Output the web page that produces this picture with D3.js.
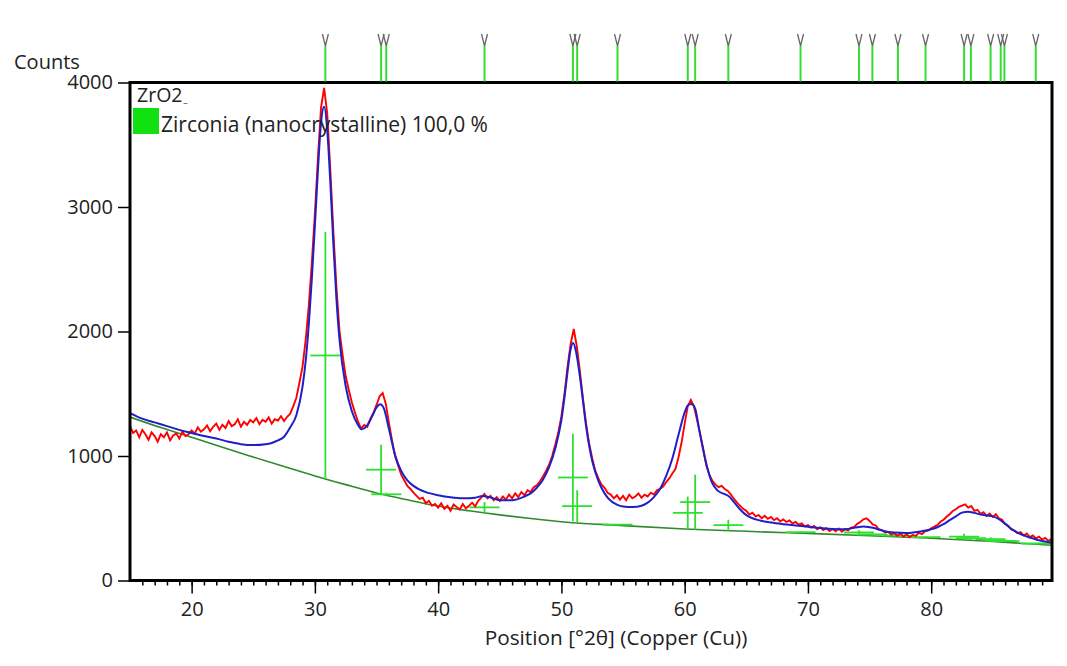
<!DOCTYPE html>
<html>
<head>
<meta charset="utf-8">
<script src="https://cdn.jsdelivr.net/npm/d3@7"></script>
<style>
  html, body { margin: 0; padding: 0; background: #ffffff; }
  svg { display: block; }
  text { font-family: "Open Sans", "Noto Sans", sans-serif; fill: #222; }
</style>
</head>
<body>
<svg id="chart" width="1067" height="666"></svg>
<script>
// ---------------- DATA ----------------
const yTickValues = [0, 1000, 2000, 3000, 4000];
const xMajorTicks = [20, 30, 40, 50, 60, 70, 80];

// observed pattern (red), 2theta from 15 in 0.25 deg steps
const obsStart = 15, obsStep = 0.25;
const obsCounts = [
 1240,1185,1205,1150,1210,1175,1130,1190,1160,1115,1175,1150,1190,1125,1165,1180,1140,1195,1160,1175,
 1205,1180,1230,1195,1215,1245,1200,1235,1260,1210,1250,1225,1280,1240,1255,1295,1235,1275,1250,1290,
 1270,1305,1255,1290,1275,1310,1260,1295,1285,1320,1280,1315,1340,1400,1470,1590,1720,1930,2200,2550,
 2950,3400,3800,3956,3750,3300,2800,2350,2000,1810,1640,1530,1430,1350,1275,1220,1250,1235,1300,1345,
 1410,1480,1505,1420,1270,1130,1000,925,850,805,760,735,705,680,655,665,620,640,600,615,
 585,620,575,600,560,610,590,570,615,580,600,625,595,640,665,695,660,680,645,670,
 640,675,650,690,660,700,670,710,685,725,710,750,765,795,835,880,930,1000,1090,1190,
 1320,1500,1720,1900,2020,1880,1680,1460,1260,1100,980,880,820,770,745,705,690,660,685,650,
 680,645,690,660,675,700,665,690,675,705,690,725,735,755,790,820,860,895,990,1110,
 1260,1400,1450,1400,1290,1180,1060,925,850,800,770,750,760,735,720,690,655,625,600,575,
 560,530,545,515,525,500,520,495,510,485,500,475,490,470,482,458,470,448,458,435,
 445,425,438,412,428,405,420,398,414,396,418,392,412,402,425,430,455,470,492,500,
 478,450,442,410,405,385,392,368,380,360,378,352,372,348,366,358,382,372,396,400,
 420,432,445,472,488,512,532,558,572,592,602,612,585,598,560,568,535,548,518,538,
 510,532,498,488,455,440,410,400,380,388,362,378,348,362,338,352,328,342,318,332
];

// calculated (fitted) profile, blue
const fitAngle = [15,16,17,18,19,20,21,22,23,24,25,26,26.5,27,27.5,28,28.5,29,29.25,29.5,29.75,
 30,30.25,30.5,30.75,31,31.25,31.5,31.75,32,32.5,33,33.5,33.8,34.2,34.6,35,35.3,35.6,36,36.5,
 37,37.5,38,38.5,39,40,41,42,43,43.6,44.2,45,46,47,47.5,48,48.5,49,49.5,50,
 50.25,50.5,50.75,50.95,51.2,51.5,51.75,52,52.5,53,53.5,54,54.5,55,55.8,56.5,57,57.5,58,58.5,
 59,59.5,60,60.25,60.55,60.85,61.2,61.5,61.8,62.2,62.7,63.2,63.6,64,64.5,65,65.5,66,67,68,
 69,70,71,72,73,74,74.5,75,75.5,76,77,78,79,80,80.5,81,81.5,82,82.5,83,
 83.5,84,84.5,85,85.5,86,86.5,87,87.5,88,88.5,89,89.8];
const fitCounts = [1345,1300,1270,1240,1210,1185,1160,1140,1115,1095,1088,1095,1105,1125,1155,1230,1330,1560,1760,2050,2420,
 2850,3300,3680,3805,3620,3200,2700,2260,1930,1560,1360,1250,1215,1240,1310,1390,1415,1380,1220,1010,
 880,805,760,730,710,685,668,660,665,678,668,645,645,675,700,745,810,910,1060,1290,
 1470,1680,1860,1908,1830,1640,1440,1240,960,800,700,640,610,595,590,600,625,670,735,840,
 980,1170,1350,1405,1418,1380,1200,1050,920,790,720,695,675,630,570,525,500,485,465,452,
 442,432,422,414,412,428,434,428,418,402,385,382,392,412,428,452,485,515,545,553,
 543,530,522,515,492,455,415,385,362,345,330,318,304];

// background curve (dark green)
const bgAngle  = [15,17.5,20,22.5,25,27.5,30,32.5,35,37.5,40,42.5,45,47.5,50,55,60,65,70,75,80,85,89.8];
const bgCounts = [1313,1228,1151,1070,992,915,840,770,703,648,598,560,527,498,472,441,414,395,378,360,339,313,283];

// reference pattern: Zirconia (nanocrystalline)
const refAngle  = [30.85,35.37,35.79,43.76,50.93,51.28,54.55,60.25,60.85,63.54,69.40,74.14,75.23,77.30,79.54,82.67,83.22,84.82,85.64,85.94,88.48];
const refBase   = [815,690,680,545,475,470,445,412,410,402,383,368,362,355,343,330,327,318,313,311,292];
const refHeight = [1985,400,25,85,705,255,8,262,440,85,12,35,15,10,12,45,25,30,12,12,10];

const yLabel = "Counts";
const xLabel = "Position [°2θ] (Copper (Cu))";
const sampleName = "ZrO2";
const phaseLabel = "Zirconia (nanocrystalline) 100,0 %";

// ---------------- DRAWING ----------------
const svg = d3.select("#chart");
const L = 130, R = 1052, T = 82.5, B = 580.5;

const x = d3.scaleLinear().domain([15, 89.8]).range([L, R]);
const y = d3.scaleLinear().domain([0, 4000]).range([B, T]);

const defs = svg.append("defs");
defs.append("clipPath").attr("id", "plotclip")
  .append("rect").attr("x", L).attr("y", T).attr("width", R - L).attr("height", B - T);

const plot = svg.append("g").attr("clip-path", "url(#plotclip)");

// background
const bgData = bgAngle.map((a, i) => [a, bgCounts[i]]);
plot.append("path").datum(bgData)
  .attr("fill", "none").attr("stroke", "#2f8a2f").attr("stroke-width", 1.6)
  .attr("d", d3.line().x(d => x(d[0])).y(d => y(d[1])).curve(d3.curveMonotoneX));

// reference sticks with crossbars
const refData = refAngle.map((a, i) => ({a, base: refBase[i], h: refHeight[i]}));
const sticks = plot.append("g").attr("stroke", "#2ee02e").attr("stroke-width", 1.8);
sticks.selectAll("line.v").data(refData).join("line").attr("class", "v")
  .attr("x1", d => x(d.a)).attr("x2", d => x(d.a))
  .attr("y1", d => y(d.base)).attr("y2", d => y(d.base + d.h));
sticks.selectAll("line.h").data(refData).join("line").attr("class", "h")
  .attr("x1", d => x(d.a) - 15).attr("x2", d => x(d.a) + 15)
  .attr("y1", d => y(d.base + d.h / 2)).attr("y2", d => y(d.base + d.h / 2));

// observed
const obsData = obsCounts.map((c, i) => [obsStart + i * obsStep, c]);
plot.append("path").datum(obsData)
  .attr("fill", "none").attr("stroke", "#ff0000").attr("stroke-width", 1.9)
  .attr("stroke-linejoin", "miter")
  .attr("d", d3.line().x(d => x(d[0])).y(d => y(d[1])));

// fitted
const fitData = fitAngle.map((a, i) => [a, fitCounts[i]]);
plot.append("path").datum(fitData)
  .attr("fill", "none").attr("stroke", "#1f1fc8").attr("stroke-width", 2)
  .attr("d", d3.line().x(d => x(d[0])).y(d => y(d[1])).curve(d3.curveMonotoneX));

// frame
svg.append("rect").attr("x", L).attr("y", T).attr("width", R - L).attr("height", B - T)
  .attr("fill", "none").attr("stroke", "#000").attr("stroke-width", 3);

// top reference markers
const marks = svg.append("g");
marks.selectAll("line").data(refAngle).join("line")
  .attr("x1", d => x(d)).attr("x2", d => x(d)).attr("y1", 46).attr("y2", T - 1)
  .attr("stroke", "#33dd33").attr("stroke-width", 2);
marks.selectAll("path").data(refAngle).join("path")
  .attr("d", d => `M${x(d) - 3},34 L${x(d)},46 L${x(d) + 3},34`)
  .attr("fill", "none").attr("stroke", "#666").attr("stroke-width", 1.3);

// x axis: minor and major ticks
const xMinor = svg.append("g").attr("transform", `translate(0,${B})`)
  .call(d3.axisBottom(x).tickValues(d3.range(16, 90, 1)).tickSize(5).tickFormat(""));
const xMajor = svg.append("g").attr("transform", `translate(0,${B})`)
  .call(d3.axisBottom(x).tickValues(xMajorTicks).tickSize(13).tickPadding(8).tickFormat(d3.format("d")));
[xMinor, xMajor].forEach(g => {
  g.select(".domain").remove();
  g.selectAll(".tick line").attr("stroke", "#000").attr("stroke-width", 1.5);
});
xMajor.selectAll(".tick text").attr("font-size", 20).attr("fill", "#222")
  .attr("font-family", '"Open Sans", sans-serif');

// y axis
const yAx = svg.append("g").attr("transform", `translate(${L},0)`)
  .call(d3.axisLeft(y).tickValues(yTickValues).tickSize(12).tickPadding(5).tickFormat(d3.format("d")));
yAx.select(".domain").remove();
yAx.selectAll(".tick line").attr("stroke", "#000").attr("stroke-width", 1.5);
yAx.selectAll(".tick text").attr("font-size", 20).attr("fill", "#222")
  .attr("font-family", '"Open Sans", sans-serif');

// labels
svg.append("text").attr("x", 14).attr("y", 69).attr("font-size", 20).text(yLabel);
svg.append("text").attr("x", 616).attr("y", 645).attr("text-anchor", "middle")
  .attr("font-size", 20.8).text(xLabel);

// legend
const lg = svg.append("text").attr("x", 137).attr("y", 102).attr("font-size", 19.5);
lg.append("tspan").text(sampleName);
lg.append("tspan").attr("font-size", 9).attr("dx", 1).text("_");
svg.append("rect").attr("x", 133).attr("y", 108).attr("width", 26).attr("height", 26).attr("fill", "#11e011");
svg.append("text").attr("x", 161).attr("y", 132).attr("font-size", 21).text(phaseLabel);
</script>
</body>
</html>
